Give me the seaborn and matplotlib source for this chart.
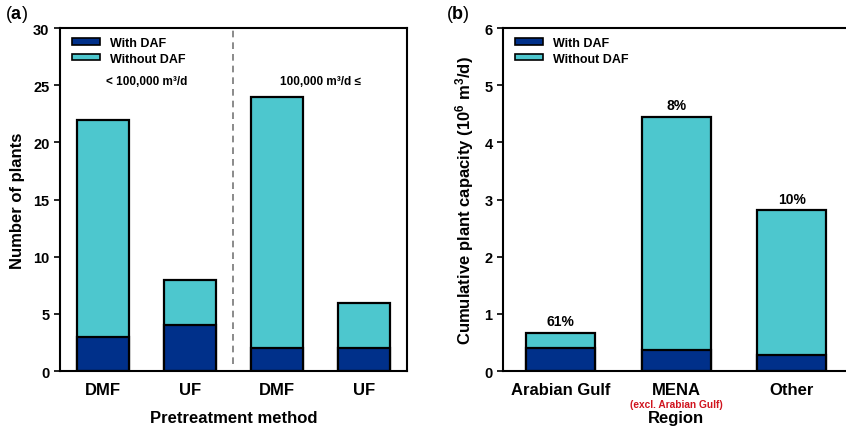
import pandas as pd
import matplotlib.pyplot as plt
import matplotlib.transforms as mtransforms
from matplotlib.patches import Patch
import seaborn as sns

# --- data ---
method_labels = ["DMF", "UF", "DMF", "UF"]
plants_total = [22, 8, 24, 6]
plants_with_daf = [3, 4, 2, 2]
size_groups = ["< 100,000 m\u00b3/d", "100,000 m\u00b3/d \u2264"]

regions = ["Arabian Gulf", "MENA", "Other"]
capacity_total = [0.67, 4.44, 2.81]
capacity_with_daf = [0.40, 0.37, 0.28]
daf_share = ["61%", "8%", "10%"]

DARK = "#00308A"
LIGHT = "#4DC7CE"

sns.set_style("ticks")
plt.rcParams["font.family"] = ["Liberation Sans", "DejaVu Sans"]
plt.rcParams["font.weight"] = "bold"
plt.rcParams["axes.labelweight"] = "bold"
plt.rcParams["mathtext.fontset"] = "custom"
plt.rcParams["mathtext.rm"] = "Liberation Sans:bold"
plt.rcParams["mathtext.bf"] = "Liberation Sans:bold"
plt.rcParams["mathtext.default"] = "rm"
plt.rcParams["axes.linewidth"] = 1.5
for key in ["text.color", "axes.labelcolor", "xtick.color", "ytick.color", "axes.edgecolor"]:
    plt.rcParams[key] = "black"

fig = plt.figure(figsize=(8.46, 4.27), dpi=100)
ax_a = fig.add_axes([0.0709, 0.1285, 0.4102, 0.8035])
ax_b = fig.add_axes([0.5946, 0.1285, 0.4096, 0.8035])

bar_kw = dict(width=0.6, edgecolor="black", linewidth=1.6, saturation=1)


def stacked(ax, n, total, lower):
    df = pd.DataFrame({"pos": list(range(n)), "total": total, "lower": lower})
    sns.barplot(data=df, x="pos", y="total", color=LIGHT, ax=ax, **bar_kw)
    sns.barplot(data=df, x="pos", y="lower", color=DARK, ax=ax, **bar_kw)
    ax.set_xlim(-0.5, n - 0.5)
    ax.tick_params(axis="x", length=0, labelsize=12, pad=8)
    ax.tick_params(axis="y", direction="out", length=4, width=1.2, labelsize=10.5)
    for side in ["top", "right", "left", "bottom"]:
        ax.spines[side].set_visible(True)
        ax.spines[side].set_linewidth(1.5)
    handles = [Patch(facecolor=DARK, edgecolor="black", linewidth=1.2, label="With DAF"),
               Patch(facecolor=LIGHT, edgecolor="black", linewidth=1.2, label="Without DAF")]
    ax.legend(handles=handles, loc="upper left", frameon=False, fontsize=9,
              handlelength=2.2, handleheight=0.45, handletextpad=0.8,
              labelspacing=0.3, borderaxespad=0.3, bbox_to_anchor=(0.01, 1.0))


# (a) number of plants by pretreatment method
stacked(ax_a, 4, plants_total, plants_with_daf)
ax_a.set_ylim(0, 30)
ax_a.set_yticks(range(0, 31, 5))
ax_a.set_xticks(range(4))
ax_a.set_xticklabels(method_labels)
ax_a.set_xlabel("Pretreatment method", fontsize=12, labelpad=9)
ax_a.set_ylabel("Number of plants", fontsize=12, labelpad=6)
ax_a.plot([1.5, 1.5], [0.6, 30], ls=(0, (4, 3)), color="#777777", lw=1.2, zorder=0)
ax_a.text(0.5, 25.4, size_groups[0], ha="center", va="center", fontsize=8.5)
ax_a.text(2.5, 25.4, size_groups[1], ha="center", va="center", fontsize=8.5)
fig.text(0.006, 0.965, r"($\mathbf{a}$)", fontsize=13, fontweight="normal",
         ha="left", va="center")

# (b) cumulative capacity by region
stacked(ax_b, 3, capacity_total, capacity_with_daf)
ax_b.set_ylim(0, 6)
ax_b.set_yticks(range(0, 7))
ax_b.set_xticks(range(3))
ax_b.set_xticklabels(regions)
ax_b.set_xlabel("Region", fontsize=12, labelpad=9)
ax_b.set_ylabel("Cumulative plant capacity (10$^6$ m$^3$/d)", fontsize=12, labelpad=6)
for i, (tot, share) in enumerate(zip(capacity_total, daf_share)):
    ax_b.annotate(share, (i, tot), xytext=(0, 3.5), textcoords="offset points",
                  ha="center", va="bottom", fontsize=10)
trans = mtransforms.blended_transform_factory(ax_b.transData, ax_b.transAxes)
ax_b.text(1, -0.095, "(excl. Arabian Gulf)", transform=trans, ha="center", va="center",
          fontsize=7.3, color="#D0141E")
fig.text(0.527, 0.965, r"($\mathbf{b}$)", fontsize=13, fontweight="normal",
         ha="left", va="center")

fig.savefig("out.png", dpi=100)
